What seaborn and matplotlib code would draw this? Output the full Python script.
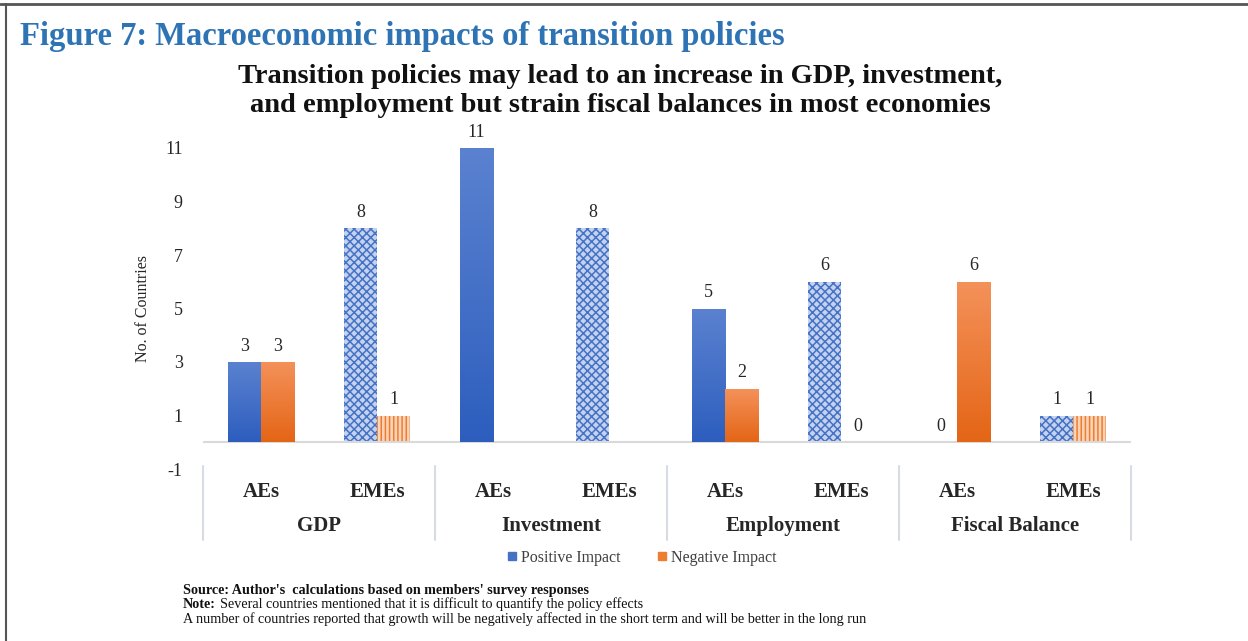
import numpy as np
import pandas as pd
import matplotlib
matplotlib.use("Agg")
import matplotlib.pyplot as plt
from matplotlib.lines import Line2D
import seaborn as sns

# ---- data ----
groups = ["GDP", "Investment", "Employment", "Fiscal Balance"]
economies = ["AEs", "EMEs"]
positive = [3, 8, 11, 8, 5, 6, 0, 1]
negative = [3, 1, np.nan, np.nan, 2, 0, 6, 1]
series = ["Positive Impact", "Negative Impact"]
yticks = [-1, 1, 3, 5, 7, 9, 11]

cats = [f"{g}|{e}" for g in groups for e in economies]
df = pd.DataFrame({
    "cat": cats * 2,
    "impact": [series[0]] * len(cats) + [series[1]] * len(cats),
    "value": positive + negative,
}).dropna()

sns.set_theme(style="white")
plt.rcParams["font.family"] = ["Liberation Serif", "DejaVu Serif"]
plt.rcParams["hatch.linewidth"] = 1.1

BLUE = "#4472c4"
ORANGE = "#ed7d31"
TEXT = "#262626"

fig = plt.figure(figsize=(12.48, 6.41), dpi=100)
ax = fig.add_axes([203 / 1248, 1 - 469 / 641, 928 / 1248, 321 / 641])

sns.barplot(data=df, x="cat", y="value", hue="impact", order=cats,
            hue_order=series, palette=[BLUE, ORANGE], width=0.57,
            ax=ax, legend=False, saturation=1)

ax.set_xlim(-0.5, len(cats) - 0.5)
ax.set_ylim(-1, 11)
ax.set_yticks(yticks)
ax.set_yticklabels([str(t) for t in yticks], fontsize=13, color=TEXT)
ax.tick_params(axis="y", length=0, pad=14.5)
ax.set_xticks([])
ax.set_xlabel("")
ax.set_ylabel("No. of Countries", fontsize=11.5, color=TEXT)
ax.yaxis.set_label_coords((151 - 203) / 928, 0.5)
for s in ax.spines.values():
    s.set_visible(False)
ax.axhline(0, color="#d9d9d9", lw=1.5, zorder=1)

# bar styling: gradient fill for AEs, pattern fill for EMEs
grad = np.linspace(0, 1, 256).reshape(-1, 1)
styles = {
    BLUE: ("#5b82d0", "#2d5ebe", "#c4d2f0"),
    ORANGE: ("#f4925a", "#e46516", "#fbd3b6"),
}
for ci, cont in enumerate(ax.containers):
    color = [BLUE, ORANGE][ci]
    top, bottom, light = styles[color]
    for patch in cont.patches:
        h = patch.get_height()
        xc = patch.get_x() + patch.get_width() / 2
        idx = int(round(xc))
        if h > 0:
            if idx % 2 == 0:
                patch.set_facecolor(bottom)
                patch.set_edgecolor("white")
                patch.set_linewidth(0.4)
                cmap = matplotlib.colors.LinearSegmentedColormap.from_list(
                    "g", [bottom, top])
                x0, w = patch.get_x(), patch.get_width()
                im = ax.imshow(grad, extent=[x0, x0 + w, 0, h], origin="lower",
                               cmap=cmap, aspect="auto", zorder=patch.get_zorder() + 0.1)
                im.set_clip_path(patch)
            else:
                patch.set_facecolor(light)
                patch.set_edgecolor(color)
                patch.set_linewidth(0)
                patch.set_hatch("xxxx" if color == BLUE else "||||")
        ax.text(xc, h + 0.28, f"{h:g}", ha="center", va="bottom",
                fontsize=13, color=TEXT)

ax.set_xlim(-0.5, len(cats) - 0.5)
ax.set_ylim(-1, 11)

# two-level category axis
tr = ax.get_xaxis_transform()
for i, c in enumerate(cats):
    ax.text(i, -(492 - 469) / 321, c.split("|")[1], transform=tr, ha="center",
            va="center", fontsize=15, fontweight="bold", color=TEXT, clip_on=False)
for gi, g in enumerate(groups):
    ax.text(2 * gi + 0.5, -(526 - 469) / 321, g, transform=tr, ha="center",
            va="center", fontsize=15, fontweight="bold", color=TEXT, clip_on=False)
for b in range(len(groups) + 1):
    ax.add_line(Line2D([2 * b - 0.5] * 2, [0.01, -(540 - 469) / 321], transform=tr,
                       color="#d6dbe4", lw=1.5, clip_on=False))

# titles
fig.text(20 / 1248, 1 - 36 / 641, "Figure 7: Macroeconomic impacts of transition policies",
         fontsize=23.5, fontweight="bold", color="#2e74b5", va="center", ha="left")
subtitle = ["Transition policies may lead to an increase in GDP, investment,",
            "and employment but strain fiscal balances in most economies"]
for line, yb in zip(subtitle, [83, 112]):
    fig.text(620 / 1248, 1 - yb / 641, line, fontsize=20.5, fontweight="bold",
             color="#111111", ha="center", va="baseline")

# legend
handles = [Line2D([], [], marker="s", ls="", color=BLUE, markersize=6),
           Line2D([], [], marker="s", ls="", color=ORANGE, markersize=6)]
fig.legend(handles, series, loc="center", bbox_to_anchor=(641 / 1248, 1 - 558 / 641),
           ncol=2, frameon=False, fontsize=11.5, handletextpad=0.15,
           columnspacing=2.2, handlelength=0.8, labelcolor="#404040")

# notes
fig.text(183 / 1248, 1 - 594 / 641,
         "Source: Author's  calculations based on members' survey responses",
         fontsize=10.2, fontweight="bold", color="#111111", va="baseline")
fig.text(183 / 1248, 1 - 608 / 641, "Note:", fontsize=10.2, fontweight="bold",
         color="#111111", va="baseline")
fig.text(220 / 1248, 1 - 608 / 641,
         "Several countries mentioned that it is difficult to quantify the policy effects",
         fontsize=10.2, color="#111111", va="baseline")
fig.text(183 / 1248, 1 - 623 / 641,
         "A number of countries reported that growth will be negatively affected in the "
         "short term and will be better in the long run",
         fontsize=10.2, color="#111111", va="baseline")

# frame lines
fig.add_artist(Line2D([0, 1], [1 - 4 / 641] * 2, transform=fig.transFigure,
                      color="#555555", lw=2))
fig.add_artist(Line2D([6 / 1248] * 2, [0, 1 - 4 / 641], transform=fig.transFigure,
                      color="#555555", lw=1.5))

fig.savefig("out.png", dpi=100)
